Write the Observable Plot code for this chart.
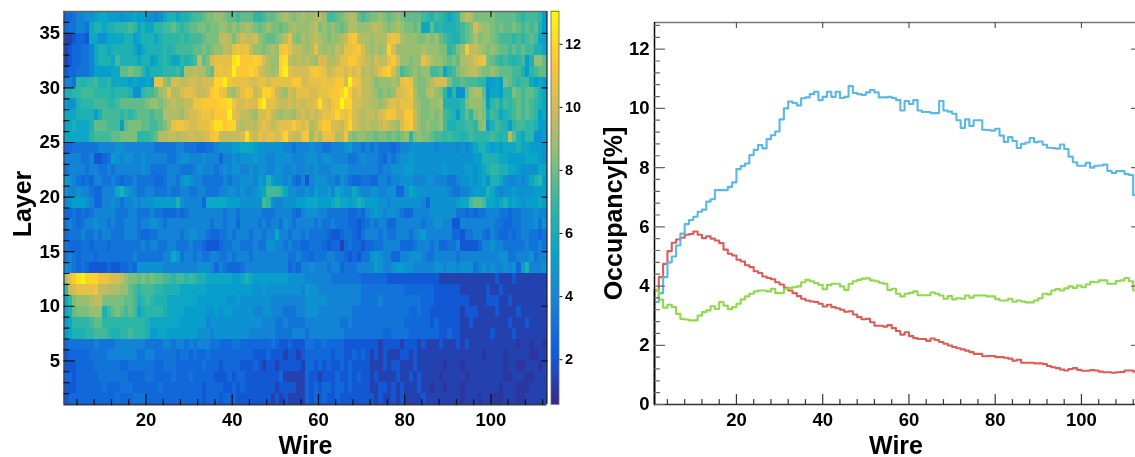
<!DOCTYPE html>
<html>
<head>
<meta charset="utf-8">
<script src="https://cdn.jsdelivr.net/npm/d3@7"></script>
<script src="https://cdn.jsdelivr.net/npm/@observablehq/plot@0.6"></script>
<style>
html,body{margin:0;padding:0;background:#fff;width:1135px;height:457px;overflow:hidden}
#page{position:relative;width:1135px;height:457px;overflow:hidden;filter:blur(0.4px)}
#page>svg{position:absolute;top:0;overflow:visible}
</style>
</head>
<body>
<div id="page"></div>
<script>
// Occupancy per wire for the three superlayer groups (wire 1..112)
const blueSeries = [3.46,3.76,4.3,4.8,5.0,5.37,5.77,6.09,6.23,6.34,6.51,6.58,6.85,6.93,7.24,7.24,7.24,7.35,7.5,7.95,8.05,8.14,8.42,8.6,8.76,8.65,8.96,9.09,9.22,9.63,10.0,10.23,10.18,10.1,10.34,10.37,10.48,10.56,10.28,10.39,10.56,10.39,10.56,10.35,10.39,10.75,10.52,10.48,10.45,10.54,10.62,10.54,10.37,10.37,10.39,10.35,10.28,9.93,10.25,10.15,10.28,9.93,9.88,9.88,9.84,9.84,10.25,9.93,9.89,9.82,9.6,9.34,9.63,9.41,9.6,9.6,9.28,9.27,9.25,9.31,9.08,8.87,9.03,8.9,8.66,8.8,8.85,9.0,8.86,8.88,8.77,8.67,8.66,8.64,8.78,8.63,8.37,8.18,8.06,8.06,8.16,8.0,8.06,8.07,8.1,7.89,7.82,7.88,7.88,7.78,7.75,7.07];
const redSeries = [3.85,4.3,4.75,5.18,5.46,5.57,5.63,5.73,5.76,5.84,5.73,5.62,5.68,5.6,5.54,5.45,5.23,5.09,5.03,4.89,4.83,4.7,4.64,4.5,4.44,4.32,4.27,4.23,4.13,4.05,3.94,3.85,3.76,3.66,3.57,3.51,3.48,3.46,3.4,3.31,3.37,3.29,3.25,3.2,3.13,3.15,3.04,2.95,2.88,2.89,2.78,2.66,2.66,2.63,2.68,2.58,2.48,2.36,2.44,2.31,2.24,2.21,2.21,2.15,2.23,2.18,2.11,2.05,1.99,1.94,1.9,1.86,1.82,1.77,1.71,1.71,1.63,1.64,1.64,1.6,1.6,1.58,1.55,1.48,1.51,1.41,1.41,1.41,1.39,1.39,1.37,1.3,1.26,1.23,1.18,1.15,1.2,1.23,1.17,1.14,1.14,1.16,1.15,1.11,1.09,1.09,1.07,1.09,1.1,1.15,1.15,1.11];
const greenSeries = [3.87,3.54,3.27,3.37,3.29,3.06,2.89,2.87,2.84,2.84,3.0,3.12,3.18,3.32,3.23,3.46,3.34,3.22,3.29,3.4,3.55,3.65,3.74,3.82,3.85,3.85,3.82,3.91,3.76,3.76,3.91,3.94,3.96,3.99,4.13,4.21,4.16,4.1,4.04,3.89,4.03,4.08,4.08,3.99,3.87,4.08,4.16,4.21,4.25,4.26,4.19,4.16,4.11,4.08,3.87,3.91,3.74,3.65,3.74,3.77,3.82,3.69,3.69,3.69,3.78,3.74,3.68,3.57,3.66,3.55,3.59,3.57,3.68,3.61,3.68,3.68,3.68,3.65,3.65,3.56,3.51,3.51,3.57,3.47,3.51,3.48,3.45,3.45,3.51,3.59,3.74,3.72,3.85,3.9,3.85,3.92,3.99,3.94,4.02,3.96,4.05,4.14,4.13,4.19,4.19,4.08,4.08,4.17,4.19,4.27,4.16,3.85];

// Heat map cells, one string per layer from 36 down to 1, one character per wire.
// Each character is a colour class; cellLevels gives its occupancy.
const cellLevels = [0.6,0.8,1.0,1.3,2.0,2.65,3.1,3.8,4.4,5.0,5.5,6.2,6.7,7.2,7.7,8.2,8.7,9.2,9.6,10.1,10.6,11,11.4,11.8,12.2,12.7,13];
const heatRows = [
"55677889aa9998 99a998878abbab bcddeffggfeede eeccdeefghgfgh gghigddefghhed effgfefgfeeeed cbdcbabcgihfff ffeeeeedcdddc9",
"566776abbabbcc cdcabaaccddedc deeffeffggfgfg hgfefgffefghgg ghifgfgfefhhgg ghihgfghgffefa aebcbbbcdefjhg gfefeefededeb9",
"334554aa88aaaa bb9abbbabccccd cdddefffiihfhj iijgfeefgikgfh ghihgfgghilmih hghhhklkhgggff gfgedcbbdefhfg gfedddcdcdeda9",
"3455667abbabbb bba8abbbbcbcdd ddeefefggihklk liggfghglmkiih ghkhghgihkklmj hghghnjggggggh gggffcdfgmiihg fgfeedededdbba",
"3455667abbbadb bbbabb9abcbaac bcdiefjkkkkopm mmnmjhggnoihih ihgjjhhikkmmkj ihjiikmjggfggk jhggfefehhijkl fedcdcbcd9bgge",
"45566679999aae efeecabbbcccdb hhihhfeklklpmm mnmjihghnpkjjj jlmlkijkkjkjkh ihikmnjgdefgfg gddeacdfghiigf fgfeeeddb9cdee",
"776cbccdbbcaaa a9a99a9kkgfjji ijjijjjnnplkkk kjjkkjkkkkkmmj jkkklkkmmjplki ihfggghgklkgff ghjjjfddedddcc 99a9fedcdda9a9",
"bbccdddccccbcc cb88cddeghkhhj kkjiijmnlkhgik mlijnnlihgjikk kjjkklmmnpmjki ihgfgfgjjklhff higfc9c88eghhe 8aa9ccfedeedba",
"988bcccdddccde eeeeefggfghihh iillmmmmnnoljj kjjnpkkjiijiji jjkokjlmqnnjji ihhghjkjkkkhgf fgghbbbbcfgggf 9cdbdcdededcba",
"aaabbbb9bddddc dcdeeedeehhhhg ijjkllkmmmpkji ihgjjkihghhgij ijijkklnlkmjih iihjkmljjmmigf fgfgdcb9cecfgf bdcabcdededc9a",
"aabaaabeeeddd9 efffeeddefhkll kjjkkkmoomnnih iihjkjijkkkmkj khikmmjjiknjih ihhijihgjlmigf gffgdbbccddcfg 9bdcb9cddccb99",
"aaaaaacddddeef fffcccdehhiihi ijiijjlmiiiiij ojikjkkjknjiil mgjhkkkhilgfgg ffeffefefgcfgf feddcdccbcdccc cdcbchebacc889",
"55666666777788 77777776666677 6665566788899a aa988888877677 78776677789776 76766656778888 88788887878abb a9a9aaabaa9998",
"77776674456987 88778777776678 87778777577878 88988778888777 88878877776678 77765767889888 8888888888899b bbbaa9999aaa98",
"67777677667677 77778766667776 66787776787887 78788778877877 87877788887777 77767788899888 8888988889989a bccbbaa98888aa",
"98765657766765 66766665567768 98776666676778 88798b98878657 47888776876556 65577677888777 8877766788989a 8bba877878abc9",
"877877655777ab 98766776667667 76677666778878 7789adddca8877 8798897a988a87 7887788558a988 88888766778999 ba878898888999",
"78999875577876 778788899999b8 77775aaaaa9998 8888dc87788899 aaa999abaa9aba 99988788888887 58888889aadeed aa9ab9a98999a9",
"55656567777766 67766676655565 67777777767767 77776667777657 88877666665565 78987887655777 78888886656566 77766566777877",
"67656778776766 77767788767777 77777767767757 77767677687677 77676676665545 67677557777776 77887744777777 77665566777868",
"56667667677666 77765566777776 78877655667677 7677677a776776 76666544566546 77767667776789 77777755466776 57655656776656",
"65556656665666 66667677667766 67665444566776 66766887767665 56665455356554 55667777555677 76755667444457 78776666676676",
"67656665666666 66766666677a96 77676677667677 76777777776676 65666776654546 68987755778887 66777776777777 77788667778677",
"87656544445445 56588888877777 77788875765556 77777777775657 78777677566677 77987789988777 77887887888678 787787859b7778",
"hkmopnnnllkjji gffefefeeddcdd cdcbbaaaaaa99a ba999999998888 77777766666665 55555444444444 44433333333333 33433343333333",
"cijkkkkliihhhg gedcdddccbbbba aaaaa999999999 99889888888887 98877777777776 66666666655555 55444444333333 43343333333333",
"acfggghiifffff eedbcdcbbbaaaa aaa99999998898 88888877777777 88888777777776 66676666666665 55444444443333 44433433333333",
"abefffgggbdefe dedabccccbaaaa 99999889899888 88778877766677 88877777777666 66666666665565 54444444344433 33433334333333",
"9accccdeeccccc cccccbaaaaaaa9 99999788888888 88887776676666 77777777667666 66666666655555 54544444334333 33333433343333",
"9abbbccdddcbbc cdcccb99aa9999 99988878888888 87777776666777 67777777766666 66665566665555 55544544333333 34333343333333",
"56666667666677 77777666677677 67677766555665 55555565445444 66556555544444 44434444344434 33343334343333 33333332332332",
"45555566667777 77766776666656 65655655555555 55444544434434 55555545544545 43434333443433 33333333333332 33332333332233",
"44455556666665 56666665566655 55556555455554 44543443444443 55454544545444 43334344333433 33332333233333 33332332233323",
"55455555666666 65555665555655 56555554445455 44444444533333 54434445445454 43433334334343 33323333323333 33332233322333",
"44455555565556 66555555655555 55554555544545 44444443444433 54545545545444 43344343433343 32332333233333 33323332223333",
"45555555555565 55666555555555 55554555455544 44444434343333 54545445444444 44343343433334 33333333233323 32223332233333"
];

// Tick positions
const wireMajor = [20,40,60,80,100];
const wireMinor = [4,8,12,16,24,28,32,36,44,48,52,56,64,68,72,76,84,88,92,96,104,108,112];
const layerMajor = [5,10,15,20,25,30,35];
const layerMinor = [2,3,4,6,7,8,9,11,12,13,14,16,17,18,19,21,22,23,24,26,27,28,29,31,32,33,34,36];
const occMajor = [0,2,4,6,8,10,12];
const occMinor = [0.4,0.8,1.2,1.6,2.4,2.8,3.2,3.6,4.4,4.8,5.2,5.6,6.4,6.8,7.2,7.6,8.4,8.8,9.2,9.6,10.4,10.8,11.2,11.6,12.4,12.8];
const barTicks = [2,4,6,8,10,12];

// Colour scale: the parula map over the colour bar's range
const parula = ["#352a87","#0f5cdd","#1481d6","#06a4ca","#2eb7a4","#87bf77","#d1bb59","#fec832","#f9fb0e"];
const colorScale = {type:"linear", domain:[0.58,13.04], interpolate:d3.piecewise(d3.interpolateRgb, parula), clamp:true};

const cells = heatRows.flatMap((row,r)=>{
  const chars = row.replace(/ /g,"");
  return Array.from(chars,(c,i)=>({wire:i+1, layer:36-r, value:cellLevels[parseInt(c,36)]}));
});

const font = {fontFamily:"'Liberation Sans',Arial,sans-serif", fontWeight:700, color:"#000", background:"transparent"};
const fs = 18.5, titleFs = 25;

// Straight tick drawn inwards from the frame
const stick = {draw(ctx,l){ctx.moveTo(0,0);ctx.lineTo(0,-l);}};
const xTicks = (values,anchor,length,stroke,w=1.2)=>Plot.vectorX(values,{frameAnchor:anchor,length,anchor:"start",rotate:anchor==="bottom"?0:180,shape:stick,stroke,strokeWidth:w});
const yTicks = (values,anchor,length,stroke,w=1.2)=>Plot.vectorY(values,{frameAnchor:anchor,length,anchor:"start",rotate:anchor==="left"?90:-90,shape:stick,stroke,strokeWidth:w});

const heat = Plot.plot({
  width:560,height:457,marginLeft:63.5,marginRight:13.5,marginTop:11,marginBottom:53,
  style:font,
  x:{domain:[1,113],axis:null},
  y:{domain:[1,37],axis:null},
  color:colorScale,
  marks:[
    Plot.rect(cells,{x1:"wire",x2:d=>d.wire+1,y1:"layer",y2:d=>d.layer+1,fill:"value",shapeRendering:"crispEdges"}),
    Plot.ruleY([37],{stroke:"#666",strokeWidth:1.5}),
    Plot.ruleY([1],{stroke:"#333a55",strokeWidth:1.8}),
    Plot.ruleX([1],{stroke:"#334a66",strokeWidth:1.5}),
    Plot.ruleX([113],{stroke:"#222",strokeWidth:1.2}),
    xTicks(wireMajor,"bottom",10,"#111"),
    xTicks(wireMinor,"bottom",5,"#111"),
    xTicks(wireMajor,"top",5,"#111"),
    yTicks(layerMajor,"left",10,"#111"),
    yTicks(layerMinor,"left",5,"#111"),
    yTicks(layerMajor,"right",5,"#111"),
    Plot.axisX({ticks:wireMajor,anchor:"bottom",tickSize:0,tickPadding:8,label:null,fontSize:fs,fontWeight:700}),
    Plot.axisY({ticks:layerMajor,anchor:"left",tickSize:0,tickPadding:4,label:null,fontSize:fs,fontWeight:700}),
    Plot.text(["Wire"],{frameAnchor:"bottom",lineAnchor:"bottom",dy:49,fontSize:titleFs,fontWeight:700,fill:"#000"}),
    Plot.text(["Layer"],{frameAnchor:"left",textAnchor:"middle",lineAnchor:"bottom",rotate:-90,dx:-33,dy:-4,fontSize:titleFs,fontWeight:700,fill:"#000"})
  ]
});
heat.style.left="0px";

const barLevels = d3.range(0.58,13.04,0.06);
const bar = Plot.plot({
  width:60,height:457,marginLeft:5.5,marginRight:46.5,marginTop:11,marginBottom:53,
  style:font,
  x:{domain:[0,1],axis:null},
  y:{domain:[0.58,13.04],axis:null},
  color:colorScale,
  marks:[
    Plot.rect(barLevels,{x1:0,x2:1,y1:d=>d,y2:d=>d+0.06,fill:d=>d,shapeRendering:"crispEdges"}),
    Plot.frame({stroke:"#667",strokeWidth:0.8}),
    Plot.axisY({ticks:barTicks,anchor:"right",tickSize:3,tickPadding:3,label:null,fontSize:14.5,fontWeight:700,stroke:"#111"})
  ]
});
bar.style.left="545px";

const steps = values=>[{wire:1,occ:0},...values.map((occ,i)=>({wire:i+1,occ})),{wire:113,occ:values[values.length-1]}];
const hist = Plot.plot({
  width:547,height:457,marginLeft:64,marginRight:0,marginTop:22,marginBottom:53,
  style:font,
  x:{domain:[1,113],axis:null},
  y:{domain:[0,12.9],axis:null},
  marks:[
    Plot.ruleY([12.9],{stroke:"#777",strokeWidth:1.5}),
    Plot.line(steps(redSeries),{x:"wire",y:"occ",curve:"step-after",stroke:"#dc5c57",strokeWidth:2.1}),
    Plot.line(steps(blueSeries),{x:"wire",y:"occ",curve:"step-after",stroke:"#5bb8e6",strokeWidth:2.1}),
    Plot.line(steps(greenSeries),{x:"wire",y:"occ",curve:"step-after",stroke:"#90d84e",strokeWidth:2.1}),
    Plot.ruleY([0],{stroke:"#333",strokeWidth:1.5}),
    Plot.ruleX([1],{stroke:"#000",strokeWidth:1.5}),
    xTicks(wireMajor,"bottom",10,"#333"),
    xTicks(wireMinor,"bottom",5,"#333"),
    xTicks(wireMajor,"top",5,"#555"),
    yTicks(occMajor,"left",10,"#666"),
    yTicks(occMinor,"left",5,"#666"),
    yTicks(occMajor.slice(1),"right",6,"#666"),
    Plot.axisX({ticks:wireMajor,anchor:"bottom",tickSize:0,tickPadding:8,label:null,fontSize:fs,fontWeight:700}),
    Plot.axisY({ticks:occMajor,anchor:"left",tickSize:0,tickPadding:5,label:null,fontSize:fs,fontWeight:700}),
    Plot.text(["Wire"],{frameAnchor:"bottom",lineAnchor:"bottom",dy:49,fontSize:titleFs,fontWeight:700,fill:"#000"}),
    Plot.text(["Occupancy[%]"],{frameAnchor:"left",textAnchor:"middle",lineAnchor:"bottom",rotate:-90,dx:-33,fontSize:titleFs,fontWeight:700,fill:"#000"})
  ]
});
hist.style.left="590px";

const page = document.getElementById("page");
page.append(heat,bar,hist);
</script>
</body>
</html>
